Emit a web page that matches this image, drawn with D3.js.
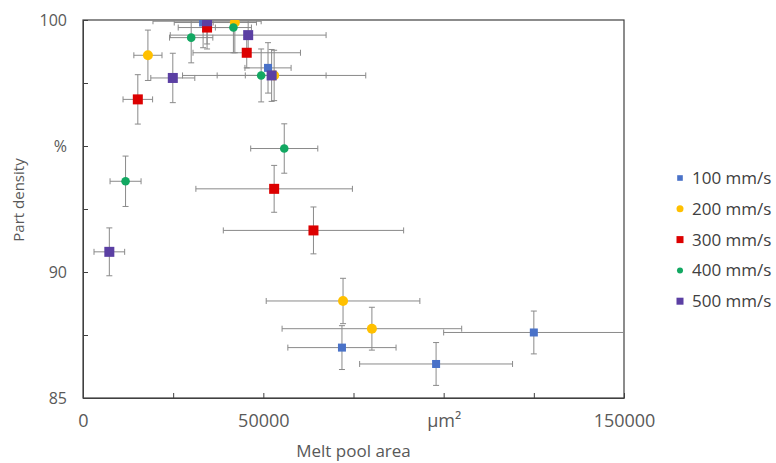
<!DOCTYPE html>
<html>
<head>
<meta charset="utf-8">
<script src="https://cdn.jsdelivr.net/npm/d3@7"></script>
<style>
  html, body { margin: 0; padding: 0; background: #fff; }
  svg { display: block; font-family: "Open Sans", "DejaVu Sans", sans-serif; }
</style>
</head>
<body>
<svg id="chart" width="776" height="463"></svg>
<script>
// Scan speeds and their marker styles
const speeds = ["100 mm/s", "200 mm/s", "300 mm/s", "400 mm/s", "500 mm/s"];
const colors = ["#4a72c8", "#ffc000", "#dc0000", "#12a862", "#5b3fa3"];
const shapes = ["square", "circle", "square", "circle", "square"];

// Melt pool area (µm²) per speed, with standard deviation
const meltArea = [
  [33300, 51300, 71800, 97900, 125000],
  [18000, 42100, 53000, 72100, 80100],
  [15200, 34400, 45400, 53000, 63900],
  [11800, 30000, 41700, 49400, 55800],
  [7300, 24900, 34400, 45800, 52300]
];
const meltAreaErr = [
  [8000, 6400, 15000, 21200, 25000],
  [3900, 6000, 25400, 21300, 24900],
  [4100, 8000, 14900, 21700, 25000],
  [4300, 6000, 5000, 4400, 9300],
  [4250, 6100, 15000, 21600, 15100]
];

// Part density (%) per speed, with standard deviation
const density = [
  [99.9, 98.1, 87.0, 86.35, 87.6],
  [98.6, 99.9, 97.8, 88.85, 87.75],
  [96.85, 99.7, 98.7, 93.3, 91.65],
  [93.6, 99.3, 99.7, 97.8, 94.9],
  [90.8, 97.7, 99.95, 99.4, 97.8]
];
const densityErr = [
  [1.0, 1.0, 0.87, 0.85, 0.85],
  [1.0, 1.2, 1.0, 0.9, 0.85],
  [0.98, 0.85, 0.6, 0.93, 0.93],
  [1.0, 1.0, 1.0, 1.05, 0.98],
  [0.95, 0.98, 0.9, 0.6, 1.03]
];

// Axis ticks and their labels
const xTicks = [0, 25000, 50000, 75000, 100000, 125000, 150000];
const xTickLabels = {0: "0", 50000: "50000", 100000: "µm²", 150000: "150000"};
const yTicks = [85, 87.5, 90, 92.5, 95, 97.5, 100];
const yTickLabels = {85: "85", 90: "90", 95: "%", 100: "100"};

const svg = d3.select("#chart");
const plot = {left: 83, top: 20, right: 624, bottom: 398};

const x = d3.scaleLinear().domain([0, 150000]).range([plot.left, plot.right]);
const y = d3.scaleLinear().domain([85, 100]).range([plot.bottom, plot.top]);

const textColor = "#595959";
const axisColor = "#404040";

svg.append("defs").append("clipPath").attr("id", "plotClip")
  .append("rect")
  .attr("x", plot.left).attr("y", plot.top)
  .attr("width", plot.right - plot.left).attr("height", plot.bottom - plot.top);

// Plot frame
svg.append("rect")
  .attr("x", plot.left).attr("y", plot.top)
  .attr("width", plot.right - plot.left).attr("height", plot.bottom - plot.top)
  .attr("fill", "none").attr("stroke", axisColor).attr("stroke-width", 1.2);

// Axes with inward ticks
const xAxis = d3.axisBottom(x).tickValues(xTicks).tickSizeInner(-5).tickSizeOuter(0)
  .tickFormat(d => xTickLabels[d] || "").tickPadding(16);
const gx = svg.append("g").attr("transform", `translate(0,${plot.bottom})`).call(xAxis);
gx.select(".domain").attr("stroke", axisColor);
gx.selectAll(".tick line").attr("stroke", axisColor);
gx.selectAll(".tick text").attr("fill", textColor).attr("font-size", 18)
  .attr("font-family", "'Open Sans', sans-serif");

const yAxis = d3.axisLeft(y).tickValues(yTicks).tickSizeInner(-5).tickSizeOuter(0)
  .tickFormat(d => yTickLabels[d] || "").tickPadding(16);
const gy = svg.append("g").attr("transform", `translate(${plot.left},0)`).call(yAxis);
gy.select(".domain").attr("stroke", axisColor);
gy.selectAll(".tick line").attr("stroke", axisColor);
gy.selectAll(".tick text").attr("fill", textColor).attr("font-size", 16)
  .attr("font-family", "'Open Sans', sans-serif");

// Axis titles
svg.append("text")
  .attr("x", (plot.left + plot.right) / 2).attr("y", 457)
  .attr("text-anchor", "middle").attr("fill", textColor).attr("font-size", 17)
  .text("Melt pool area");
svg.append("text")
  .attr("transform", "translate(24,200) rotate(-90)")
  .attr("text-anchor", "middle").attr("fill", textColor).attr("font-size", 15)
  .text("Part density");

// Error bars and markers, one group per speed
const barColor = "#8a8a8a";
const cap = 3;
const data = speeds.map((s, i) => meltArea[i].map((v, j) => ({
  series: i, area: v, dens: density[i][j], areaErr: meltAreaErr[i][j], densErr: densityErr[i][j]
})));

const clipped = svg.append("g").attr("clip-path", "url(#plotClip)");
data.forEach((pts, i) => {
  const g = clipped.append("g");
  const bars = g.selectAll("g.err").data(pts).join("g").attr("class", "err")
    .attr("stroke", barColor).attr("stroke-width", 1);
  // horizontal bars
  bars.append("line")
    .attr("x1", d => x(d.area - d.areaErr)).attr("x2", d => x(d.area + d.areaErr))
    .attr("y1", d => y(d.dens)).attr("y2", d => y(d.dens));
  bars.append("line")
    .attr("x1", d => x(d.area - d.areaErr)).attr("x2", d => x(d.area - d.areaErr))
    .attr("y1", d => y(d.dens) - cap).attr("y2", d => y(d.dens) + cap);
  bars.append("line")
    .attr("x1", d => x(d.area + d.areaErr)).attr("x2", d => x(d.area + d.areaErr))
    .attr("y1", d => y(d.dens) - cap).attr("y2", d => y(d.dens) + cap);
  // vertical bars
  bars.append("line")
    .attr("x1", d => x(d.area)).attr("x2", d => x(d.area))
    .attr("y1", d => y(d.dens - d.densErr)).attr("y2", d => y(d.dens + d.densErr));
  bars.append("line")
    .attr("x1", d => x(d.area) - cap).attr("x2", d => x(d.area) + cap)
    .attr("y1", d => y(d.dens - d.densErr)).attr("y2", d => y(d.dens - d.densErr));
  bars.append("line")
    .attr("x1", d => x(d.area) - cap).attr("x2", d => x(d.area) + cap)
    .attr("y1", d => y(d.dens + d.densErr)).attr("y2", d => y(d.dens + d.densErr));
});

function drawMarker(sel, i, cx, cy, scale) {
  const k = scale || 1;
  if (shapes[i] === "square") {
    const s = (i === 0 ? 8 : 10) * k;
    sel.append("rect")
      .attr("x", cx - s / 2).attr("y", cy - s / 2).attr("width", s).attr("height", s)
      .attr("fill", colors[i]);
  } else {
    const r = (i === 1 ? 5 : 4.3) * k;
    sel.append("circle").attr("cx", cx).attr("cy", cy).attr("r", r).attr("fill", colors[i]);
  }
}

data.forEach((pts, i) => {
  const g = clipped.append("g");
  pts.forEach(d => drawMarker(g, i, x(d.area), y(d.dens)));
});

// Legend
const legend = svg.append("g");
speeds.forEach((s, i) => {
  const cy = 178 + i * 30.8;
  drawMarker(legend, i, 680, cy, 0.7);
  legend.append("text")
    .attr("x", 692).attr("y", cy + 6)
    .attr("fill", "#404040").attr("font-size", 17)
    .text(s);
});
</script>
</body>
</html>
